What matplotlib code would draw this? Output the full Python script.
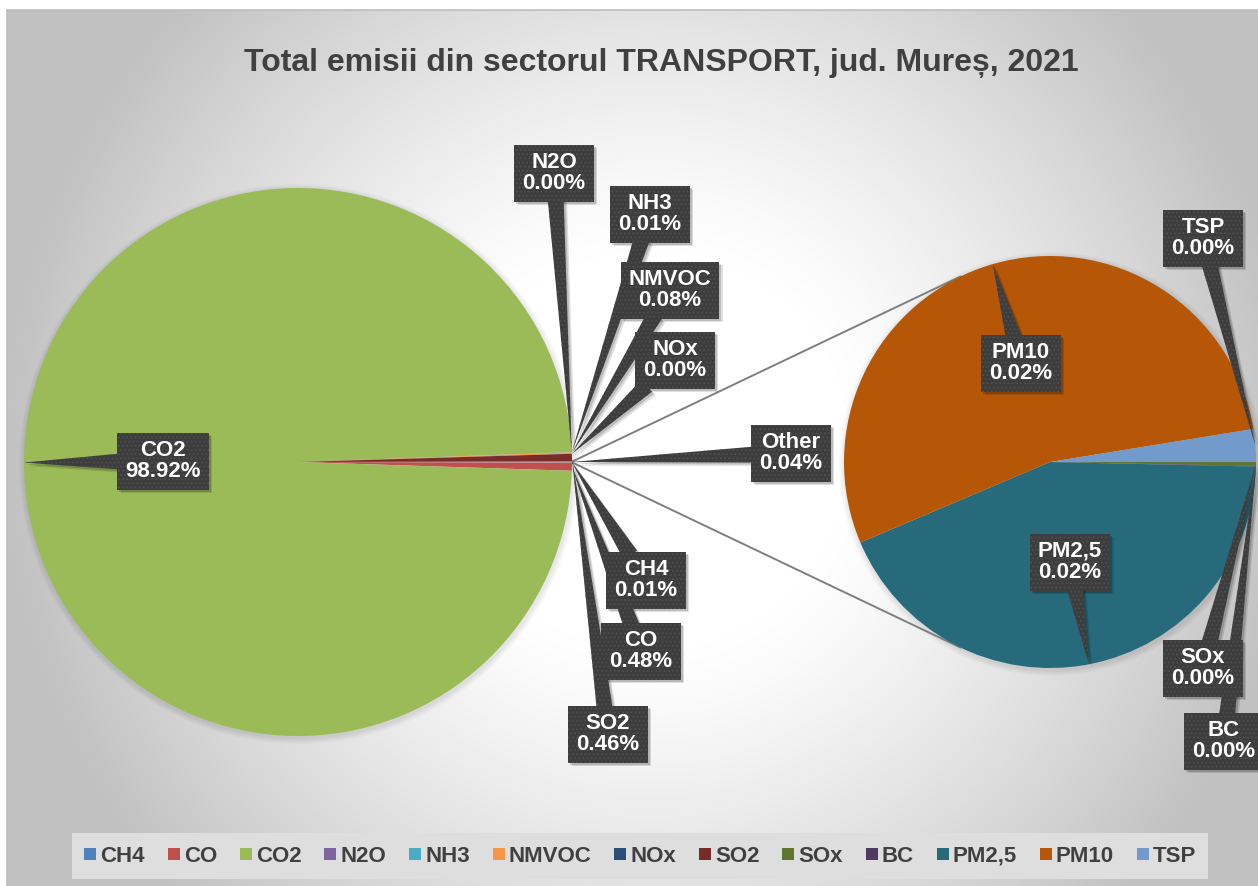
import numpy as np
import matplotlib
matplotlib.use("Agg")
import matplotlib.pyplot as plt
from matplotlib.patches import Rectangle, Polygon, Circle
from matplotlib.lines import Line2D

plt.rcParams['font.family'] = ['Liberation Sans', 'DejaVu Sans']
plt.rcParams['hatch.linewidth'] = 0.9

# ---- data: share of total emissions (%) ----
main_names = ['CH4', 'CO', 'CO2', 'N2O', 'NH3', 'NMVOC', 'NOx', 'SO2']
main_values = [0.011, 0.480, 98.9152, 0.003, 0.011, 0.080, 0.002, 0.458]
other_names = ['SOx', 'BC', 'PM2,5', 'PM10', 'TSP']
other_values = [0.00012, 0.00002, 0.0172, 0.0214, 0.00102]
other_label = 'Other'

legend_names = ['CH4', 'CO', 'CO2', 'N2O', 'NH3', 'NMVOC', 'NOx', 'SO2',
                'SOx', 'BC', 'PM2,5', 'PM10', 'TSP']
palette = {
    'CH4': '#4F81BD', 'CO': '#C0504D', 'CO2': '#9BBB59', 'N2O': '#8064A2',
    'NH3': '#4BACC6', 'NMVOC': '#F79646', 'NOx': '#2C4D75', 'SO2': '#772C2A',
    'SOx': '#5F7530', 'BC': '#4D3B62', 'PM2,5': '#276A7C', 'PM10': '#B65708',
    'TSP': '#729ACA',
}
title = 'Total emisii din sectorul TRANSPORT, jud. Mureș, 2021'

# ---- layout (pixel space, y measured from the top) ----
W, H = 1258, 886
def Y(y):
    return H - y

main_center = (298, Y(462))
main_radius = 274
sub_center = (1050, Y(462))
sub_radius = 206

label_pos = {
    'CO2': (163, 461), 'N2O': (554, 173), 'NH3': (650, 214),
    'NMVOC': (670, 290), 'NOx': (675, 360), 'Other': (791, 453),
    'CH4': (646, 580), 'CO': (641, 651), 'SO2': (608, 734),
    'PM10': (1021, 363), 'PM2,5': (1070, 562), 'TSP': (1203, 238),
    'SOx': (1203, 668), 'BC': (1224, 741),
}

fig = plt.figure(figsize=(W / 100, H / 100), dpi=100)
fig.patch.set_facecolor('white')
ax = fig.add_axes([0, 0, 1, 1])

# radial background of the chart area
yy, xx = np.mgrid[0:H, 0:W]
d = np.hypot(xx - 650, yy - 450)
t = np.clip((d - 200) / 450, 0, 1) ** 1.2
g = (255 - 62 * t) / 255
ax.imshow(np.dstack([g, g, g]), extent=(0, W, 0, H), origin='upper',
          zorder=0, interpolation='bilinear')
ax.add_patch(Rectangle((0, Y(10)), W, 10, fc='white', ec='none', zorder=0.5))
ax.add_patch(Rectangle((0, 0), 7, H, fc='white', ec='none', zorder=0.5))
ax.plot([7, W], [Y(10), Y(10)], color='#bdbdbd', lw=1.2, zorder=0.6)
ax.plot([7, 7], [0, Y(10)], color='#bdbdbd', lw=1.2, zorder=0.6)

# soft shadows under both pies
for (c, r) in ((main_center, main_radius), (sub_center, sub_radius)):
    for k in range(6):
        ax.add_patch(Circle((c[0] + 1, c[1] - 2), r + 6 - k, fc='black',
                            ec='none', alpha=0.015, zorder=1))

# ---- main pie: small slices clockwise after the "Other" slice at 3 o'clock ----
other_total = sum(other_values)
pie1_vals = main_values + [other_total]
pie1_names = main_names + [other_label]
total = sum(pie1_vals)
other_deg = 360 * other_total / total
pie1_colors = [palette[n] for n in main_names] + ['#A5A5A5']
w1, _ = ax.pie(pie1_vals, colors=pie1_colors, startangle=-other_deg / 2,
               counterclock=False, center=main_center, radius=main_radius,
               wedgeprops=dict(linewidth=0))
for w in w1:
    w.set_zorder(2)

# ---- secondary pie: breakdown of "Other" ----
sub_colors = [palette[n] for n in other_names]
w2, _ = ax.pie(other_values, colors=sub_colors, startangle=0,
               counterclock=False, center=sub_center, radius=sub_radius,
               wedgeprops=dict(linewidth=0))
for w in w2:
    w.set_zorder(2)

ax.set_xlim(0, W)
ax.set_ylim(0, H)
ax.set_aspect('auto')
ax.axis('off')

# connector lines: tangents from the "Other" slice to the secondary pie
ow = w1[-1]
dist = sub_center[0] - main_center[0]
phi = np.degrees(np.arccos(sub_radius / (dist - main_radius)))
for sgn, th in ((1, ow.theta2), (-1, ow.theta1)):
    a0 = np.radians(th)
    p0 = (main_center[0] + main_radius * np.cos(a0),
          main_center[1] + main_radius * np.sin(a0))
    a1 = np.radians(180 - phi) * sgn
    p1 = (sub_center[0] + sub_radius * np.cos(a1),
          sub_center[1] + sub_radius * np.sin(a1))
    ax.plot([p0[0], p1[0]], [p0[1], p1[1]], color='#7f7f7f', lw=1.4,
            zorder=1.5, solid_capstyle='butt')

fig.canvas.draw()
renderer = fig.canvas.get_renderer()


def edge_point(wedge, center, radius):
    mid = np.radians((wedge.theta1 + wedge.theta2) / 2)
    return (center[0] + radius * np.cos(mid), center[1] + radius * np.sin(mid))


def callout(name, pct, pos, tip):
    cx, cy = pos[0], Y(pos[1])
    txt = ax.text(cx, cy, f"{name}\n{pct:.2f}%", ha='center', va='center',
                  color='white', fontsize=16, fontweight='bold',
                  linespacing=1.05, zorder=12)
    bb = txt.get_window_extent(renderer).transformed(ax.transData.inverted())
    hw = (bb.x1 - bb.x0) / 2 + 8
    hh = 28.5
    vx, vy = tip[0] - cx, tip[1] - cy
    n = np.hypot(vx, vy)
    ux, uy = vx / n, vy / n
    te = min(hw / abs(ux) if ux else 1e9, hh / abs(uy) if uy else 1e9)
    bx, by = cx + ux * (te - 4), cy + uy * (te - 4)
    px, py = -uy * 8, ux * 8
    wedge_pts = [(bx + px, by + py), tip, (bx - px, by - py)]
    # shadow
    for off, al in ((3.5, 0.12), (2.0, 0.16)):
        ax.add_patch(Rectangle((cx - hw + off, cy - hh - off), 2 * hw, 2 * hh,
                               fc='black', ec='none', alpha=al, zorder=9))
        ax.add_patch(Polygon([(x + off, y - off) for x, y in wedge_pts],
                             closed=True, fc='black', ec='none', alpha=al,
                             zorder=9))
    ax.add_patch(Polygon(wedge_pts, closed=True, fc='#3d3d3d', ec='#4e4e4e',
                         lw=0, hatch='....', zorder=10))
    ax.add_patch(Rectangle((cx - hw, cy - hh), 2 * hw, 2 * hh, fc='#3d3d3d',
                           ec='#4e4e4e', lw=0, hatch='....', zorder=11))


for i, name in enumerate(pie1_names):
    pct = 100 * pie1_vals[i] / total
    callout(name, pct, label_pos[name],
            edge_point(w1[i], main_center, main_radius))
for i, name in enumerate(other_names):
    pct = 100 * other_values[i] / total
    callout(name, pct, label_pos[name],
            edge_point(w2[i], sub_center, sub_radius))

ax.text(661, Y(63), title, ha='center', va='center', fontsize=23,
        fontweight='bold', color='#404040', zorder=12)

handles = [Line2D([], [], marker='s', linestyle='none', markersize=8.7,
                  markerfacecolor=palette[n], markeredgewidth=0)
           for n in legend_names]
leg = fig.legend(handles, legend_names, loc='center',
                 bbox_to_anchor=(640 / W, 1 - 856 / H), ncol=13,
                 frameon=True, facecolor='#dedede', edgecolor='none',
                 fancybox=False, framealpha=1, handlelength=0.6,
                 handletextpad=0.15, columnspacing=1.0, borderpad=0.55,
                 prop={'weight': 'bold', 'size': 16}, labelcolor='#404040')

fig.savefig('out.png', dpi=100, facecolor='white')
